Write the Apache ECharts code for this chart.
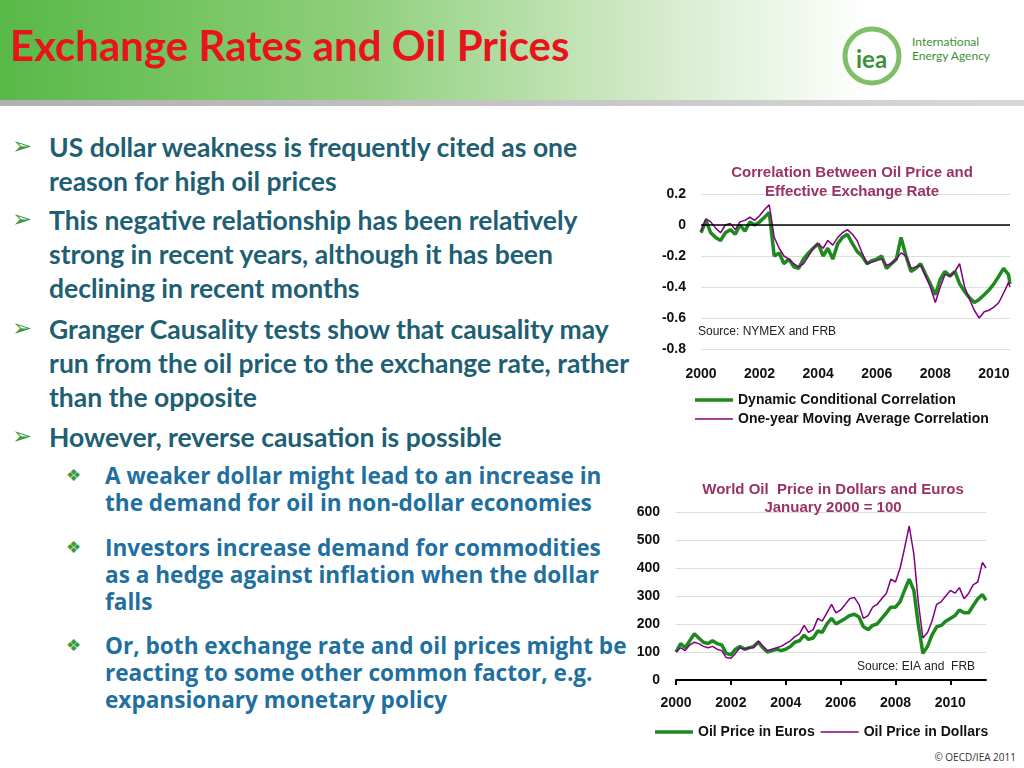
<!DOCTYPE html>
<html><head><meta charset="utf-8">
<script src="https://cdn.jsdelivr.net/npm/echarts@6/dist/echarts.min.js"></script>
<style>
body{margin:0;width:1024px;height:768px;overflow:hidden;background:#fff;position:relative;font-family:Lato,"Open Sans",sans-serif}
#hdr{position:absolute;left:0;top:0;width:1024px;height:100px;background:linear-gradient(90deg,#58b947 0%,#8fcf7c 35%,#d6eccd 65%,#fff 85%)}
#bar{position:absolute;left:0;top:100px;width:1024px;height:6px;background:linear-gradient(90deg,#b0b0b0,#d8d8d8)}
#title{position:absolute;left:10px;top:20px;font:bold 42px Lato,sans-serif;color:#e8141c}
.t{position:absolute;color:#1e5f74;font:bold 26.5px Lato,sans-serif;line-height:34px;left:49px;white-space:nowrap}
.a{position:absolute;left:12px;color:#3a9a3a;font-size:24px}
.s{position:absolute;color:#1f6f9f;font:bold 22.6px "Open Sans",sans-serif;line-height:27px;left:105px;white-space:nowrap}
.d{position:absolute;left:66px;color:#3a9a3a;font-size:17px}
#c{position:absolute;left:0;top:0;width:1024px;height:768px}
</style></head><body>
<div id="hdr"></div><div id="bar"></div>
<div id="title">Exchange Rates and Oil Prices</div>
<svg style="position:absolute;left:842px;top:24px" width="160" height="66">
<circle cx="30" cy="32" r="27" fill="none" stroke="#7fbf6a" stroke-width="5"/>
<text x="14" y="44" font-family="Lato" font-weight="bold" font-size="24" fill="#3f8f3a">iea</text>
<text x="70" y="22" font-family="Lato" font-size="12" fill="#3f8f3a">International</text>
<text x="70" y="36" font-family="Lato" font-size="12" fill="#3f8f3a">Energy Agency</text>
</svg>
<div class="a" style="top:130px">➢</div>
<div class="t" style="top:130px">US dollar weakness is frequently cited as one<br>reason for high oil prices</div>
<div class="a" style="top:203px">➢</div>
<div class="t" style="top:203px">This negative relationship has been relatively<br>strong in recent years, although it has been<br>declining in recent months</div>
<div class="a" style="top:312px">➢</div>
<div class="t" style="top:312px">Granger Causality tests show that causality may<br>run from the oil price to the exchange rate, rather<br>than the opposite</div>
<div class="a" style="top:420px">➢</div>
<div class="t" style="top:420px">However, reverse causation is possible</div>
<div class="d" style="top:464px">❖</div>
<div class="s" style="top:462px">A weaker dollar might lead to an increase in<br>the demand for oil in non-dollar economies</div>
<div class="d" style="top:536px">❖</div>
<div class="s" style="top:534px">Investors increase demand for commodities<br>as a hedge against inflation when the dollar<br>falls</div>
<div class="d" style="top:634px">❖</div>
<div class="s" style="top:632px">Or, both exchange rate and oil prices might be<br>reacting to some other common factor, e.g.<br>expansionary monetary policy</div>
<div style="position:absolute;right:8px;top:750px;font:10px 'Open Sans';color:#333">© OECD/IEA 2011</div>
<div id="c"></div>
<script>
const tCorr=[2000,2000.17,2000.33,2000.5,2000.67,2000.83,2001,2001.17,2001.33,2001.5,2001.67,2001.83,2002,2002.17,2002.33,2002.5,2002.67,2002.83,2003,2003.17,2003.33,2003.5,2003.67,2003.83,2004,2004.17,2004.33,2004.5,2004.67,2004.83,2005,2005.17,2005.33,2005.5,2005.67,2005.83,2006,2006.17,2006.33,2006.5,2006.67,2006.83,2007,2007.17,2007.33,2007.5,2007.67,2007.83,2008,2008.17,2008.33,2008.5,2008.67,2008.83,2009,2009.17,2009.33,2009.5,2009.67,2009.83,2010,2010.17,2010.33,2010.5,2010.55];
const dcc=[-0.05,0.03,-0.05,-0.08,-0.1,-0.05,-0.03,-0.06,0,-0.04,0.02,0,0.02,0.05,0.08,-0.2,-0.18,-0.25,-0.22,-0.27,-0.28,-0.22,-0.18,-0.15,-0.12,-0.2,-0.15,-0.22,-0.12,-0.08,-0.06,-0.12,-0.17,-0.2,-0.25,-0.23,-0.22,-0.2,-0.28,-0.25,-0.22,-0.08,-0.2,-0.3,-0.28,-0.25,-0.32,-0.38,-0.45,-0.35,-0.3,-0.33,-0.3,-0.38,-0.43,-0.47,-0.5,-0.48,-0.45,-0.42,-0.38,-0.33,-0.28,-0.32,-0.38];
const mac=[-0.04,0.04,0.02,-0.02,-0.05,0,0.01,-0.03,0.02,0.03,0.05,0.03,0.06,0.1,0.13,-0.08,-0.15,-0.2,-0.22,-0.25,-0.27,-0.25,-0.2,-0.15,-0.12,-0.15,-0.1,-0.13,-0.08,-0.05,-0.03,-0.06,-0.1,-0.18,-0.25,-0.24,-0.23,-0.22,-0.26,-0.25,-0.22,-0.18,-0.2,-0.28,-0.27,-0.26,-0.33,-0.4,-0.5,-0.4,-0.32,-0.33,-0.3,-0.25,-0.4,-0.48,-0.55,-0.6,-0.56,-0.55,-0.53,-0.5,-0.44,-0.37,-0.4];
const tOil=[2000,2000.17,2000.33,2000.5,2000.67,2000.83,2001,2001.17,2001.33,2001.5,2001.67,2001.83,2002,2002.17,2002.33,2002.5,2002.67,2002.83,2003,2003.17,2003.33,2003.5,2003.67,2003.83,2004,2004.17,2004.33,2004.5,2004.67,2004.83,2005,2005.17,2005.33,2005.5,2005.67,2005.83,2006,2006.17,2006.33,2006.5,2006.67,2006.83,2007,2007.17,2007.33,2007.5,2007.67,2007.83,2008,2008.17,2008.33,2008.5,2008.67,2008.83,2009,2009.17,2009.33,2009.5,2009.67,2009.83,2010,2010.17,2010.33,2010.5,2010.67,2010.83,2011,2011.17,2011.3];
const euros=[100,130,115,140,165,150,135,130,140,130,125,95,90,110,120,110,115,120,135,115,100,105,110,105,110,120,135,140,160,145,150,175,170,200,220,200,210,220,230,235,225,190,180,195,200,220,240,260,260,280,320,360,320,200,95,120,160,190,195,210,220,230,250,240,240,265,290,305,285];
const dollars=[100,115,105,125,135,130,120,115,120,110,105,80,78,95,115,110,115,115,140,120,105,110,115,120,130,140,155,165,195,170,180,220,210,240,270,240,250,270,290,295,270,220,230,260,270,290,310,360,350,400,470,550,450,280,150,170,210,270,280,300,320,310,330,290,310,340,350,420,400];
const z=(t,v)=>t.map((x,i)=>[x,v[i]]);
const lab={color:'#111',fontWeight:'bold',fontSize:14,fontFamily:'Liberation Sans'};
const yr=v=>String(Math.round(v));
const thick='path://M0,0L40,0L40,3.5L0,3.5Z', thin='path://M0,0L40,0L40,1.5L0,1.5Z';
const ch=echarts.init(document.getElementById('c'));
ch.setOption({animation:false,
title:[{text:'Correlation Between Oil Price and\nEffective Exchange Rate',left:847,top:158,textAlign:'center',textStyle:{color:'#993366',fontSize:15,fontWeight:'bold',fontFamily:'Liberation Sans',lineHeight:19}},
{text:'World Oil  Price in Dollars and Euros\nJanuary 2000 = 100',left:828,top:476,textAlign:'center',textStyle:{color:'#993366',fontSize:15,fontWeight:'bold',fontFamily:'Liberation Sans',lineHeight:18}}],
legend:[{data:[{name:'Dynamic Conditional Correlation',icon:thick},{name:'One-year Moving Average Correlation',icon:thin}],orient:'vertical',left:690,top:388,itemGap:5,itemWidth:38,itemHeight:12,textStyle:{fontSize:14,fontWeight:'bold',fontFamily:'Liberation Sans',color:'#111'}},
{data:[{name:'Oil Price in Euros',icon:thick},{name:'Oil Price in Dollars',icon:thin}],left:650,top:720,itemGap:6,itemWidth:38,itemHeight:12,textStyle:{fontSize:14,fontWeight:'bold',fontFamily:'Liberation Sans',color:'#111'}}],
grid:[{left:701,right:14,top:194,bottom:419},{left:676,right:38,top:512,bottom:88}],
xAxis:[{type:'value',gridIndex:0,min:2000,max:2010.55,interval:2,axisLine:{show:false},axisTick:{show:false},splitLine:{show:false},axisLabel:Object.assign({margin:18,showMaxLabel:false,formatter:yr},lab)},
{type:'value',gridIndex:1,min:2000,max:2011.3,interval:2,axisLine:{lineStyle:{color:'#000',width:2}},axisTick:{lineStyle:{color:'#000',width:2}},splitLine:{show:false},axisLabel:Object.assign({margin:16,showMaxLabel:false,formatter:yr},lab)}],
yAxis:[{type:'value',gridIndex:0,min:-0.8,max:0.2,interval:0.2,axisLine:{show:false},axisTick:{show:false},splitLine:{lineStyle:{color:'#ddd'}},axisLabel:Object.assign({margin:15,formatter:v=>Math.abs(v)<1e-9?'0':String(+v.toFixed(1))},lab)},
{type:'value',gridIndex:1,min:0,max:600,interval:100,axisLine:{show:false},axisTick:{show:false},splitLine:{lineStyle:{color:'#ddd'}},axisLabel:Object.assign({margin:16},lab)}],
series:[
{name:'Dynamic Conditional Correlation',type:'line',symbol:'none',xAxisIndex:0,yAxisIndex:0,data:z(tCorr,dcc),lineStyle:{color:'#1e8a1e',width:3.5},itemStyle:{color:'#1e8a1e'},z:2,
 markLine:{silent:true,symbol:'none',label:{show:false},lineStyle:{color:'#000',type:'solid',width:1.5},data:[{yAxis:0}]}},
{name:'One-year Moving Average Correlation',type:'line',symbol:'none',xAxisIndex:0,yAxisIndex:0,data:z(tCorr,mac),lineStyle:{color:'#800080',width:1.5},itemStyle:{color:'#800080'},z:3},
{name:'Oil Price in Euros',type:'line',symbol:'none',xAxisIndex:1,yAxisIndex:1,data:z(tOil,euros),lineStyle:{color:'#1e8a1e',width:3.5},itemStyle:{color:'#1e8a1e'},z:2},
{name:'Oil Price in Dollars',type:'line',symbol:'none',xAxisIndex:1,yAxisIndex:1,data:z(tOil,dollars),lineStyle:{color:'#800080',width:1.5},itemStyle:{color:'#800080'},z:3}],
graphic:[{type:'text',left:698,top:326,style:{text:'Source: NYMEX and FRB',fontSize:12,fontFamily:'Liberation Sans',fill:'#222'}},
{type:'text',left:857,top:661,style:{text:'Source: EIA and  FRB',fontSize:12,fontFamily:'Liberation Sans',fill:'#222'}}]
});
</script></body></html>
